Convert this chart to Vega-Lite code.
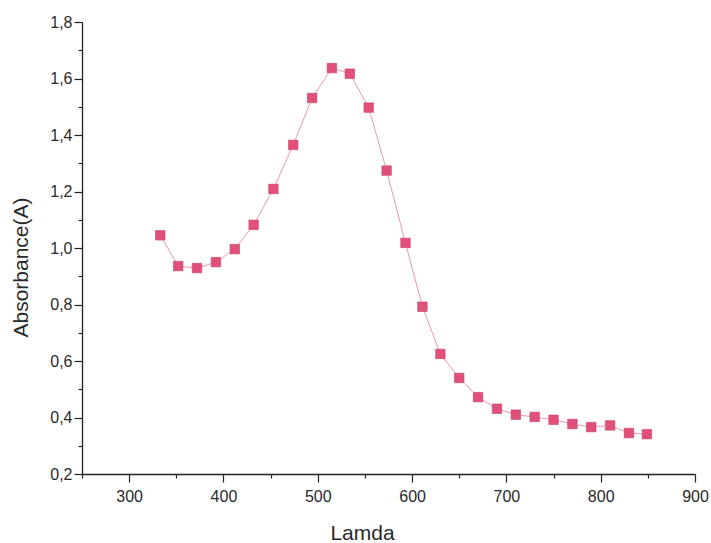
{
  "$schema": "https://vega.github.io/schema/vega-lite/v6.json",
  "autosize": {"type": "none"},
  "width": 613,
  "height": 452,
  "padding": {"left": 82, "top": 22, "right": 16, "bottom": 69},
  "background": "white",
  "config": {
    "view": {"stroke": null},
    "font": "Liberation Sans",
    "axis": {
      "domainColor": "#222",
      "domainWidth": 1.3,
      "tickColor": "#222",
      "tickWidth": 1.2,
      "grid": false,
      "labelFont": "Liberation Sans",
      "labelFontSize": 16,
      "labelColor": "#2a2a2a",
      "titleFont": "Liberation Sans",
      "titleFontSize": 21,
      "titleFontWeight": "normal",
      "titleColor": "#2a2a2a"
    }
  },
  "data": {
    "values": [
      {"lamda": 333, "abs": 1.045},
      {"lamda": 352, "abs": 0.936},
      {"lamda": 372, "abs": 0.929},
      {"lamda": 392, "abs": 0.950},
      {"lamda": 412, "abs": 0.996},
      {"lamda": 432, "abs": 1.082},
      {"lamda": 453, "abs": 1.209},
      {"lamda": 474, "abs": 1.365},
      {"lamda": 494, "abs": 1.531},
      {"lamda": 515, "abs": 1.637},
      {"lamda": 534, "abs": 1.617},
      {"lamda": 554, "abs": 1.497},
      {"lamda": 573, "abs": 1.274},
      {"lamda": 593, "abs": 1.018},
      {"lamda": 611, "abs": 0.792},
      {"lamda": 630, "abs": 0.625},
      {"lamda": 650, "abs": 0.540},
      {"lamda": 670, "abs": 0.472},
      {"lamda": 690, "abs": 0.431},
      {"lamda": 710, "abs": 0.410},
      {"lamda": 730, "abs": 0.402},
      {"lamda": 750, "abs": 0.392},
      {"lamda": 770, "abs": 0.377},
      {"lamda": 790, "abs": 0.366},
      {"lamda": 810, "abs": 0.372},
      {"lamda": 830, "abs": 0.345},
      {"lamda": 849, "abs": 0.341}
    ]
  },
  "encoding": {
    "x": {
      "field": "lamda",
      "type": "quantitative",
      "scale": {"domain": [250, 900], "nice": false, "zero": false},
      "axis": {
        "title": "Lamda",
        "titleX": 280,
        "titleY": 65,
        "titleAlign": "center",
        "titleBaseline": "alphabetic",
        "values": [250, 300, 350, 400, 450, 500, 550, 600, 650, 700, 750, 800, 850, 900],
        "labelExpr": "datum.value % 100 == 0 ? datum.label : ''",
        "tickSize": {"condition": {"test": "datum.value % 100 != 0", "value": 4}, "value": 8},
        "labelPadding": 6,
        "labelFlush": false,
        "labelOverlap": false
      }
    },
    "y": {
      "field": "abs",
      "type": "quantitative",
      "scale": {"domain": [0.2, 1.8], "nice": false, "zero": false},
      "axis": {
        "title": "Absorbance(A)",
        "titleX": -55,
        "titleY": 245,
        "titleAngle": 270,
        "titleAlign": "center",
        "titleBaseline": "alphabetic",
        "values": [0.2, 0.3, 0.4, 0.5, 0.6, 0.7, 0.8, 0.9, 1.0, 1.1, 1.2, 1.3, 1.4, 1.5, 1.6, 1.7, 1.8],
        "labelExpr": "round(datum.value * 10) % 2 == 0 ? replace(format(datum.value, '.1f'), '.', ',') : ''",
        "tickSize": {"condition": {"test": "round(datum.value * 10) % 2 == 1", "value": 4}, "value": 8},
        "labelPadding": 2,
        "labelFlush": false,
        "labelOverlap": false
      }
    }
  },
  "layer": [
    {
      "mark": {"type": "line", "color": "#e89aab", "strokeWidth": 1}
    },
    {
      "mark": {"type": "point", "shape": "square", "filled": true, "size": 90, "color": "#e0507a", "opacity": 1, "stroke": "#c84068", "strokeWidth": 0.6}
    }
  ]
}
